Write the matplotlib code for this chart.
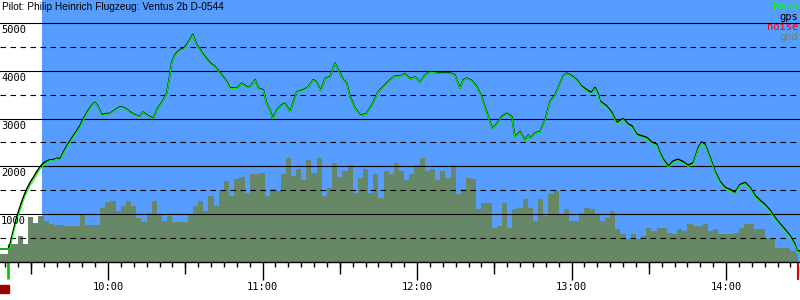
import numpy as np
import matplotlib.pyplot as plt
from matplotlib.patches import Rectangle

title = "Pilot: Philip Heinrich Flugzeug: Ventus 2b D-0544"

# flight trace, time in minutes after 09:00, altitude in m
baro_t = [18.1, 21.2, 22.0, 23.2, 24.5, 25.8, 27.1, 28.4, 29.7, 31.0,
          32.3, 33.6, 34.9, 36.2, 37.5, 38.8, 40.1, 41.4, 42.6, 44.0,
          45.2, 46.5, 47.8, 49.1, 50.4, 51.7, 53.0, 54.3, 55.0, 56.2,
          57.6, 58.8, 60.8, 62.7, 64.7, 66.6, 68.5, 70.5, 72.4, 73.6,
          75.1, 76.3, 77.6, 78.9, 80.2, 81.5, 82.8, 83.4, 84.1, 84.7,
          86.0, 88.0, 89.2, 90.6, 91.8, 92.9, 94.4, 97.0, 99.6, 101.5,
          103.5, 106.1, 107.4, 110.0, 111.9, 113.8, 115.1, 117.1, 118.4, 120.3,
          121.6, 122.9, 123.9, 125.5, 127.4, 128.7, 130.7, 133.3, 135.8, 137.8,
          139.7, 141.0, 142.6, 144.3, 146.2, 148.1, 150.1, 151.4, 152.7, 154.0,
          155.9, 157.9, 160.2, 162.5, 164.8, 167.6, 169.5, 171.4, 173.4, 175.3,
          177.3, 179.2, 181.1, 183.1, 185.0, 188.9, 192.8, 194.7, 196.7, 197.9,
          199.3, 201.2, 203.2, 205.1, 207.0, 209.2, 210.9, 212.9, 214.8, 216.8,
          218.0, 220.0, 221.9, 223.2, 223.9, 225.8, 227.7, 229.7, 231.6, 233.6,
          235.5, 236.8, 238.1, 240.1, 242.0, 243.9, 246.5, 247.8, 249.1, 250.4,
          251.0, 253.6, 255.6, 257.5, 260.1, 262.0, 263.4, 265.3, 267.2, 269.2,
          271.1, 273.1, 274.3, 275.6, 277.6, 279.5, 281.4, 283.4, 285.3, 287.3,
          289.2, 290.5, 291.8, 293.8, 295.7, 297.6, 299.6, 301.5, 303.5, 305.4,
          307.4, 309.3, 311.2, 313.2, 315.1, 317.1, 319.0, 320.9, 322.9, 324.8,
          326.8, 327.5, 328.7]
baro_alt = [273, 273, 300, 588, 861, 1071, 1281, 1455, 1596, 1701,
            1827, 1947, 2016, 2085, 2121, 2121, 2157, 2136, 2262, 2400,
            2505, 2610, 2715, 2820, 2961, 3102, 3207, 3312, 3333, 3240,
            3066, 3087, 3102, 3171, 3240, 3213, 3129, 3066, 3045, 3129,
            3066, 3030, 2997, 3171, 3276, 3381, 3522, 3696, 3942, 4152,
            4326, 4431, 4446, 4536, 4641, 4746, 4536, 4326, 4152, 4080,
            3942, 3765, 3627, 3627, 3732, 3660, 3660, 3801, 3627, 3591,
            3312, 3171, 2997, 3171, 3276, 3312, 3135, 3555, 3591, 3660,
            3801, 3765, 3576, 3837, 3870, 4152, 3942, 3801, 3732, 3450,
            3213, 3066, 3087, 3276, 3549, 3696, 3801, 3885, 3885, 3927,
            3822, 3864, 3759, 3906, 3969, 3948, 3948, 3906, 3627, 3801,
            3837, 3786, 3660, 3450, 3135, 2787, 2877, 3030, 3102, 3030,
            2610, 2715, 2541, 2646, 2577, 2694, 2715, 2961, 3345, 3486,
            3732, 3885, 3942, 3885, 3801, 3660, 3555, 3522, 3627, 3486,
            3345, 3240, 3102, 2892, 2976, 2856, 2820, 2646, 2610, 2577,
            2484, 2436, 2262, 2121, 1980, 2085, 2121, 2064, 1995, 2052,
            2367, 2484, 2436, 2157, 1869, 1659, 1533, 1491, 1428, 1596,
            1638, 1533, 1365, 1260, 1176, 1050, 903, 777, 651, 525,
            336, 231, 189]
gps_alt = [273, 273, 380, 650, 930, 1150, 1350, 1520, 1660, 1770,
           1890, 1990, 2070, 2110, 2140, 2140, 2170, 2160, 2290, 2430,
           2530, 2640, 2740, 2850, 2990, 3120, 3225, 3320, 3340, 3250,
           3080, 3100, 3110, 3180, 3250, 3220, 3140, 3075, 3050, 3135,
           3075, 3040, 3005, 3180, 3285, 3390, 3535, 3710, 3955, 4165,
           4340, 4445, 4460, 4550, 4655, 4760, 4550, 4340, 4165, 4090,
           3955, 3775, 3640, 3635, 3740, 3670, 3665, 3810, 3635, 3600,
           3320, 3180, 3005, 3180, 3285, 3320, 3145, 3560, 3600, 3665,
           3810, 3770, 3585, 3845, 3875, 4160, 3950, 3810, 3740, 3460,
           3220, 3075, 3095, 3285, 3555, 3705, 3810, 3890, 3890, 3935,
           3830, 3870, 3765, 3910, 3975, 3955, 3955, 3915, 3635, 3810,
           3845, 3795, 3670, 3460, 3145, 2795, 2885, 3040, 3110, 3040,
           2620, 2725, 2550, 2655, 2585, 2700, 2725, 2970, 3355, 3495,
           3740, 3895, 3950, 3895, 3815, 3680, 3580, 3550, 3650, 3515,
           3370, 3265, 3130, 2920, 3000, 2885, 2850, 2675, 2640, 2605,
           2510, 2465, 2290, 2150, 2010, 2115, 2150, 2095, 2025, 2080,
           2395, 2510, 2465, 2185, 1895, 1690, 1560, 1520, 1455, 1620,
           1665, 1560, 1395, 1290, 1205, 1080, 930, 805, 680, 555,
           370, 240, 231]

# ground elevation, one sample every 2 min from 09:18
gnd_t0 = 18.0
gnd_dt = 2.0
gnd_alt = [168, 168, 378, 378, 546, 378, 945, 819, 966, 861,
           798, 777, 777, 756, 756, 756, 1008, 777, 777, 777,
           1134, 1260, 1281, 1071, 1176, 1281, 1176, 924, 840, 1029,
           1281, 1008, 861, 966, 840, 840, 840, 1008, 1176, 1281,
           1071, 1386, 1176, 1491, 1701, 1386, 1743, 1785, 1449, 1848,
           1848, 1869, 1386, 1533, 1491, 1848, 2184, 1806, 1953, 1722,
           2142, 1869, 2184, 1386, 1554, 2079, 1785, 1911, 2037, 1449,
           1764, 1953, 1449, 1848, 1344, 1911, 1848, 2079, 1911, 1722,
           1848, 2037, 2184, 1911, 1953, 1722, 1911, 1764, 2037, 1428,
           1533, 1764, 1743, 1113, 1239, 1239, 714, 756, 1239, 714,
           1113, 1134, 1323, 1134, 861, 1323, 966, 1428, 1491, 1008,
           1113, 861, 861, 1029, 1134, 1113, 1008, 861, 924, 1071,
           693, 588, 483, 588, 483, 546, 714, 651, 714, 714,
           609, 588, 693, 651, 798, 756, 756, 798, 651, 693,
           588, 588, 588, 609, 714, 798, 798, 693, 693, 504,
           483, 294, 294, 294, 231, 168]

y_solid = [1000, 2000, 3000, 4000, 5000]
y_dashed = [500, 1500, 2500, 3500, 4500]
hour_ticks = [60, 120, 180, 240, 300]
hour_labels = ["10:00", "11:00", "12:00", "13:00", "14:00"]
legend_names = ["baro", "gps", "noise", "gnd"]
legend_colors = ["#00ff00", "#000000", "#ff0000", "#668866"]

t_min, t_max = 18.06, 328.7
t_blue = 34.4      # start of blue area
t_takeoff = 21.2
t_landing = 327.9

fig = plt.figure(figsize=(8, 3), dpi=100)
ax = fig.add_axes([0, 38 / 300, 1, 262 / 300])
ax.set_xlim(t_min, t_max)
ax.set_ylim(0, 5480)

ax.axvspan(t_blue, t_max, color="#579dff", lw=0, zorder=0)

gnd_t = gnd_t0 + gnd_dt * np.arange(len(gnd_alt))
ax.fill_between(gnd_t, gnd_alt, step="mid", color="#668866", lw=0, zorder=1)

for v in y_solid:
    ax.axhline(v, color="black", lw=0.8, zorder=2)
for v in y_dashed:
    ax.axhline(v, color="black", lw=0.8, ls=(0, (5, 4)), zorder=2)
for v in y_solid:
    ax.annotate(str(v), xy=(0, v), xycoords=("axes fraction", "data"),
                xytext=(1, -2), textcoords="offset pixels", va="top", ha="left",
                fontsize=7.5, family="DejaVu Sans Mono", zorder=5)

ax.plot(baro_t, gps_alt, color="black", lw=1.1, zorder=3)
ax.plot(baro_t, baro_alt, color="#00ff00", lw=0.8, zorder=4)

# time axis
for s in ["top", "right", "left"]:
    ax.spines[s].set_visible(False)
ax.spines["bottom"].set_linewidth(1.0)
ax.set_yticks([])
ax.set_xticks(hour_ticks)
ax.set_xticklabels(hour_labels, fontsize=7.5, family="DejaVu Sans Mono")
ax.set_xticks(np.arange(20, 330, 5), minor=True)
ax.tick_params(axis="x", which="major", length=13, width=1, pad=1.5)
ax.tick_params(axis="x", which="minor", length=3.6, width=1)
tr = ax.get_xaxis_transform()
ax.vlines([30, 90, 150, 210, 270], 0, -12 / 262, color="black", lw=1,
          transform=tr, clip_on=False)
ax.vlines(t_takeoff, 0, -17 / 262, color="#00cc00", lw=2, transform=tr, clip_on=False)
ax.vlines(t_landing, 0, -18 / 262, color="#dd0000", lw=1.5, transform=tr, clip_on=False)

fig.patches.append(Rectangle((0, 7 / 300), 9 / 800, 8 / 300, color="#990000",
                             transform=fig.transFigure))

fig.text(2 / 800, 1 - 10.5 / 300, title, va="baseline", ha="left",
         fontsize=7.3, family="Liberation Sans")
for i, (n, c) in enumerate(zip(legend_names, legend_colors)):
    fig.text(798 / 800, 1 - (9.5 + 10.3 * i) / 300, n, color=c, va="baseline",
             ha="right", fontsize=7.5, family="DejaVu Sans Mono")

fig.savefig("out.png", dpi=100)
